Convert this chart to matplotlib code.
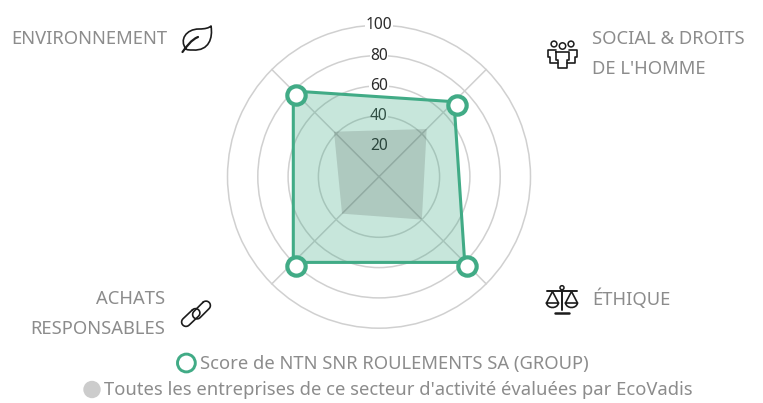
import numpy as np
import matplotlib
matplotlib.use("Agg")
import matplotlib.pyplot as plt
from matplotlib.path import Path
from matplotlib.patches import PathPatch, Circle
from matplotlib.transforms import ScaledTranslation

plt.rcParams["font.family"] = ["Noto Sans", "DejaVu Sans"]

# axes go clockwise from the top right spoke
categories = [["SOCIAL & DROITS", "DE L'HOMME"], ["ÉTHIQUE"],
              ["ACHATS", "RESPONSABLES"], ["ENVIRONNEMENT"]]
company = [70, 80, 80, 80]
sector = [44.5, 40, 34.5, 42]
tick_values = [20, 40, 60, 80, 100]
ring_values = [40, 60, 80, 100]  # no circle is drawn at 20
legend_labels = ["Score de NTN SNR ROULEMENTS SA (GROUP)",
                 "Toutes les entreprises de ce secteur d'activité évaluées par EcoVadis"]

W, H = 763, 403
CX, CY, R = 379, 176.7, 151.5
GREEN = "#41ab86"
GRID = "#d0d0d0"
LABEL = "#8c8c8c"
INK = "#1c1c1c"


def closed(values):
    return np.r_[values, values[0]]


fig = plt.figure(figsize=(W / 100, H / 100), dpi=100)
ax = fig.add_axes([(CX - R) / W, (H - CY - R) / H, 2 * R / W, 2 * R / H],
                  projection="polar")
ax.set_theta_zero_location("N")
ax.set_theta_direction(-1)
ax.set_ylim(0, 100)
ax.spines["polar"].set_visible(False)
ax.patch.set_alpha(0)

theta = np.deg2rad(45 + 90 * np.arange(len(company)))
ax.set_xticks(theta)
ax.set_xticklabels([])
ax.set_yticks(ring_values)
ax.set_yticklabels([])
ax.tick_params(length=0)
ax.grid(True, color=GRID, lw=1.1, clip_on=False)
ax.set_axisbelow(True)

for v in tick_values:
    ax.text(0, v, str(v), ha="center", va="center", fontsize=11.2, color="#2b2b2b",
            zorder=1.5, bbox=dict(fc="white", ec="none", pad=0.5))

t = closed(theta)
ax.fill(t, closed(company), color=GREEN, alpha=0.29, lw=0, zorder=2)
ax.fill(t, closed(sector), color="black", alpha=0.125, lw=0, zorder=2.1)
ax.plot(t, closed(company), color=GREEN, lw=2.2, zorder=3, solid_joinstyle="miter")
# the markers sit a few pixels off the polygon corners in the original
shift = ScaledTranslation(2.6 / 100, -3.7 / 100, fig.dpi_scale_trans)
ax.plot(theta, company, ls="none", marker="o", ms=13.2, mfc="white", mec=GREEN,
        mew=3.0, zorder=4, clip_on=False, transform=ax.transData + shift)

# overlay in pixel coordinates for labels, icons and legend
ov = fig.add_axes([0, 0, 1, 1])
ov.set_xlim(0, W)
ov.set_ylim(H, 0)
ov.axis("off")

lab = dict(fontsize=13.25, color=LABEL, va="center")
ov.text(592, 39.5, categories[0][0], ha="left", **lab)
ov.text(592, 69.5, categories[0][1], ha="left", **lab)
ov.text(592, 298.5, categories[1][0], ha="left", **lab)
ov.text(165, 298.5, categories[2][0], ha="right", **lab)
ov.text(165, 329.5, categories[2][1], ha="right", **lab)
ov.text(167, 38.5, categories[3][0], ha="right", **lab)

# legend
ov.add_patch(Circle((186.4, 363), 8.9, fc="white", ec=GREEN, lw=2.1))
ov.add_patch(Circle((92, 389.5), 8.7, fc="#cccccc", ec="none"))
ov.text(200, 363.5, legend_labels[0], ha="left", **lab)
ov.text(104, 390, legend_labels[1], ha="left", **lab)


def stroke(verts, codes=None, lw=1.2, **kw):
    ov.add_patch(PathPatch(Path(verts, codes), fc="none", ec=INK, lw=lw,
                           capstyle="round", joinstyle="round", **kw))


def ring(x, y, r):
    ov.add_patch(Circle((x, y), r, fc="none", ec=INK, lw=1.1))


def capsule(x0, y0, x1, y1, r):
    # outline of a chain link around the segment (x0, y0)-(x1, y1)
    a = np.arctan2(y1 - y0, x1 - x0)
    s = np.linspace(-np.pi / 2, np.pi / 2, 12)
    end1 = np.c_[x1 + r * np.cos(a + s), y1 + r * np.sin(a + s)]
    end0 = np.c_[x0 + r * np.cos(a + s + np.pi), y0 + r * np.sin(a + s + np.pi)]
    stroke(np.r_[end1, end0, end1[:1]], lw=1.2)


# leaf
C = Path.CURVE4
stroke([(186, 49), (179, 40), (186, 29), (199, 29), (205, 29), (209, 28), (211, 26),
        (213, 38), (209, 51), (193, 50), (189, 50), (187, 50), (186, 49)],
       [Path.MOVETO, C, C, C, C, C, C, C, C, C, C, C, C])
stroke([(198, 37), (191, 40), (187, 46), (182.5, 52)], [Path.MOVETO, C, C, C], lw=1.6)

# people
ring(554, 44, 2.9)
ring(562.5, 46, 3.2)
ring(571, 44, 2.9)
stroke([(555.5, 52), (568.5, 52), (568.5, 60), (566.5, 60), (566.5, 68), (558, 68),
        (558, 60), (555.5, 60), (555.5, 52)])
stroke([(555.5, 49.5), (547.5, 49.5), (547.5, 57), (550, 57), (550, 63), (558, 63)])
stroke([(568.5, 49.5), (577, 49.5), (577, 57), (574.5, 57), (574.5, 63), (566.5, 63)])

# scales
ring(562, 287.7, 2)
stroke([(547, 291), (577, 291)], lw=1.4)
stroke([(562, 290), (562, 310)], lw=1.4)
stroke([(555, 312.5), (569, 312.5)], lw=1.8)
for px in (552.5, 571.5):
    stroke([(px - 6, 303), (px, 291.5), (px + 6, 303)])
    stroke([(px - 6, 303), (px - 5, 309), (px + 5, 309), (px + 6, 303), (px - 6, 303)],
           [Path.MOVETO, C, C, C, Path.LINETO])

# chain
capsule(186, 322, 195.5, 313, 4.4)
capsule(197, 314.5, 206, 305.5, 4.4)

fig.savefig("out.png", dpi=100)
